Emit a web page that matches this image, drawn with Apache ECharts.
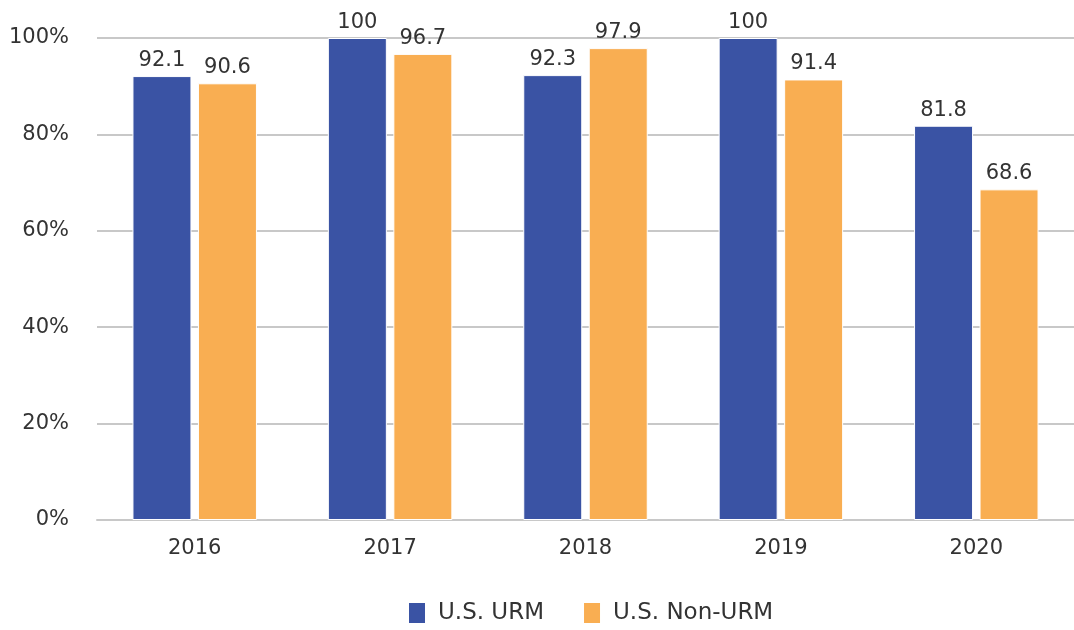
<!DOCTYPE html>
<html>
<head>
<meta charset="utf-8">
<script src="https://cdn.jsdelivr.net/npm/echarts@6/dist/echarts.min.js"></script>
<style>
  html, body { margin: 0; padding: 0; background: #fff; }
  #main { width: 1074px; height: 630px; }
</style>
</head>
<body>
<div id="main"></div>
<script>
var years = ['2016', '2017', '2018', '2019', '2020'];
var urm = [92.1, 100, 92.3, 100, 81.8];
var nonUrm = [90.6, 96.7, 97.9, 91.4, 68.6];
var seriesNames = ['U.S. URM', 'U.S. Non-URM'];

var chart = echarts.init(document.getElementById('main'));
var font = '"DejaVu Sans", "Noto Sans", sans-serif';

var labelStyle = {
    show: true,
    position: 'top',
    distance: 5,
    color: '#333',
    fontSize: 21,
    fontFamily: font
};

var option = {
    color: ['#3A53A4', '#F9AE52'],
    textStyle: { fontFamily: font },
    grid: { left: 97, right: -3, top: 38, bottom: 110, containLabel: false },
    legend: {
        data: seriesNames,
        bottom: 0,
        left: 402,
        icon: 'rect',
        itemWidth: 18,
        itemHeight: 22,
        itemGap: 38,
        textStyle: { fontSize: 23, color: '#333', fontFamily: font, padding: [0, 0, 0, 7] }
    },
    xAxis: {
        type: 'category',
        data: years,
        axisTick: { show: false },
        axisLine: { lineStyle: { color: '#c8c8c8', width: 2 } },
        axisLabel: { color: '#333', fontSize: 21, margin: 18, fontFamily: font }
    },
    yAxis: {
        type: 'value',
        min: 0,
        max: 100,
        interval: 20,
        axisLabel: { formatter: '{value}%', color: '#333', fontSize: 21, margin: 28, fontFamily: font, padding: [0, 0, 4, 0] },
        splitLine: { lineStyle: { color: '#c8c8c8', width: 2 } },
        axisLine: { show: false },
        axisTick: { show: false }
    },
    series: [{
        name: seriesNames[0],
        type: 'bar',
        data: urm,
        barWidth: 59,
        barGap: '11%',
        itemStyle: { borderColor: '#fff', borderWidth: 1 },
        label: labelStyle
    }, {
        name: seriesNames[1],
        type: 'bar',
        data: nonUrm,
        barWidth: 59,
        barGap: '11%',
        itemStyle: { borderColor: '#fff', borderWidth: 1 },
        label: labelStyle
    }]
};

chart.setOption(option);
</script>
</body>
</html>
